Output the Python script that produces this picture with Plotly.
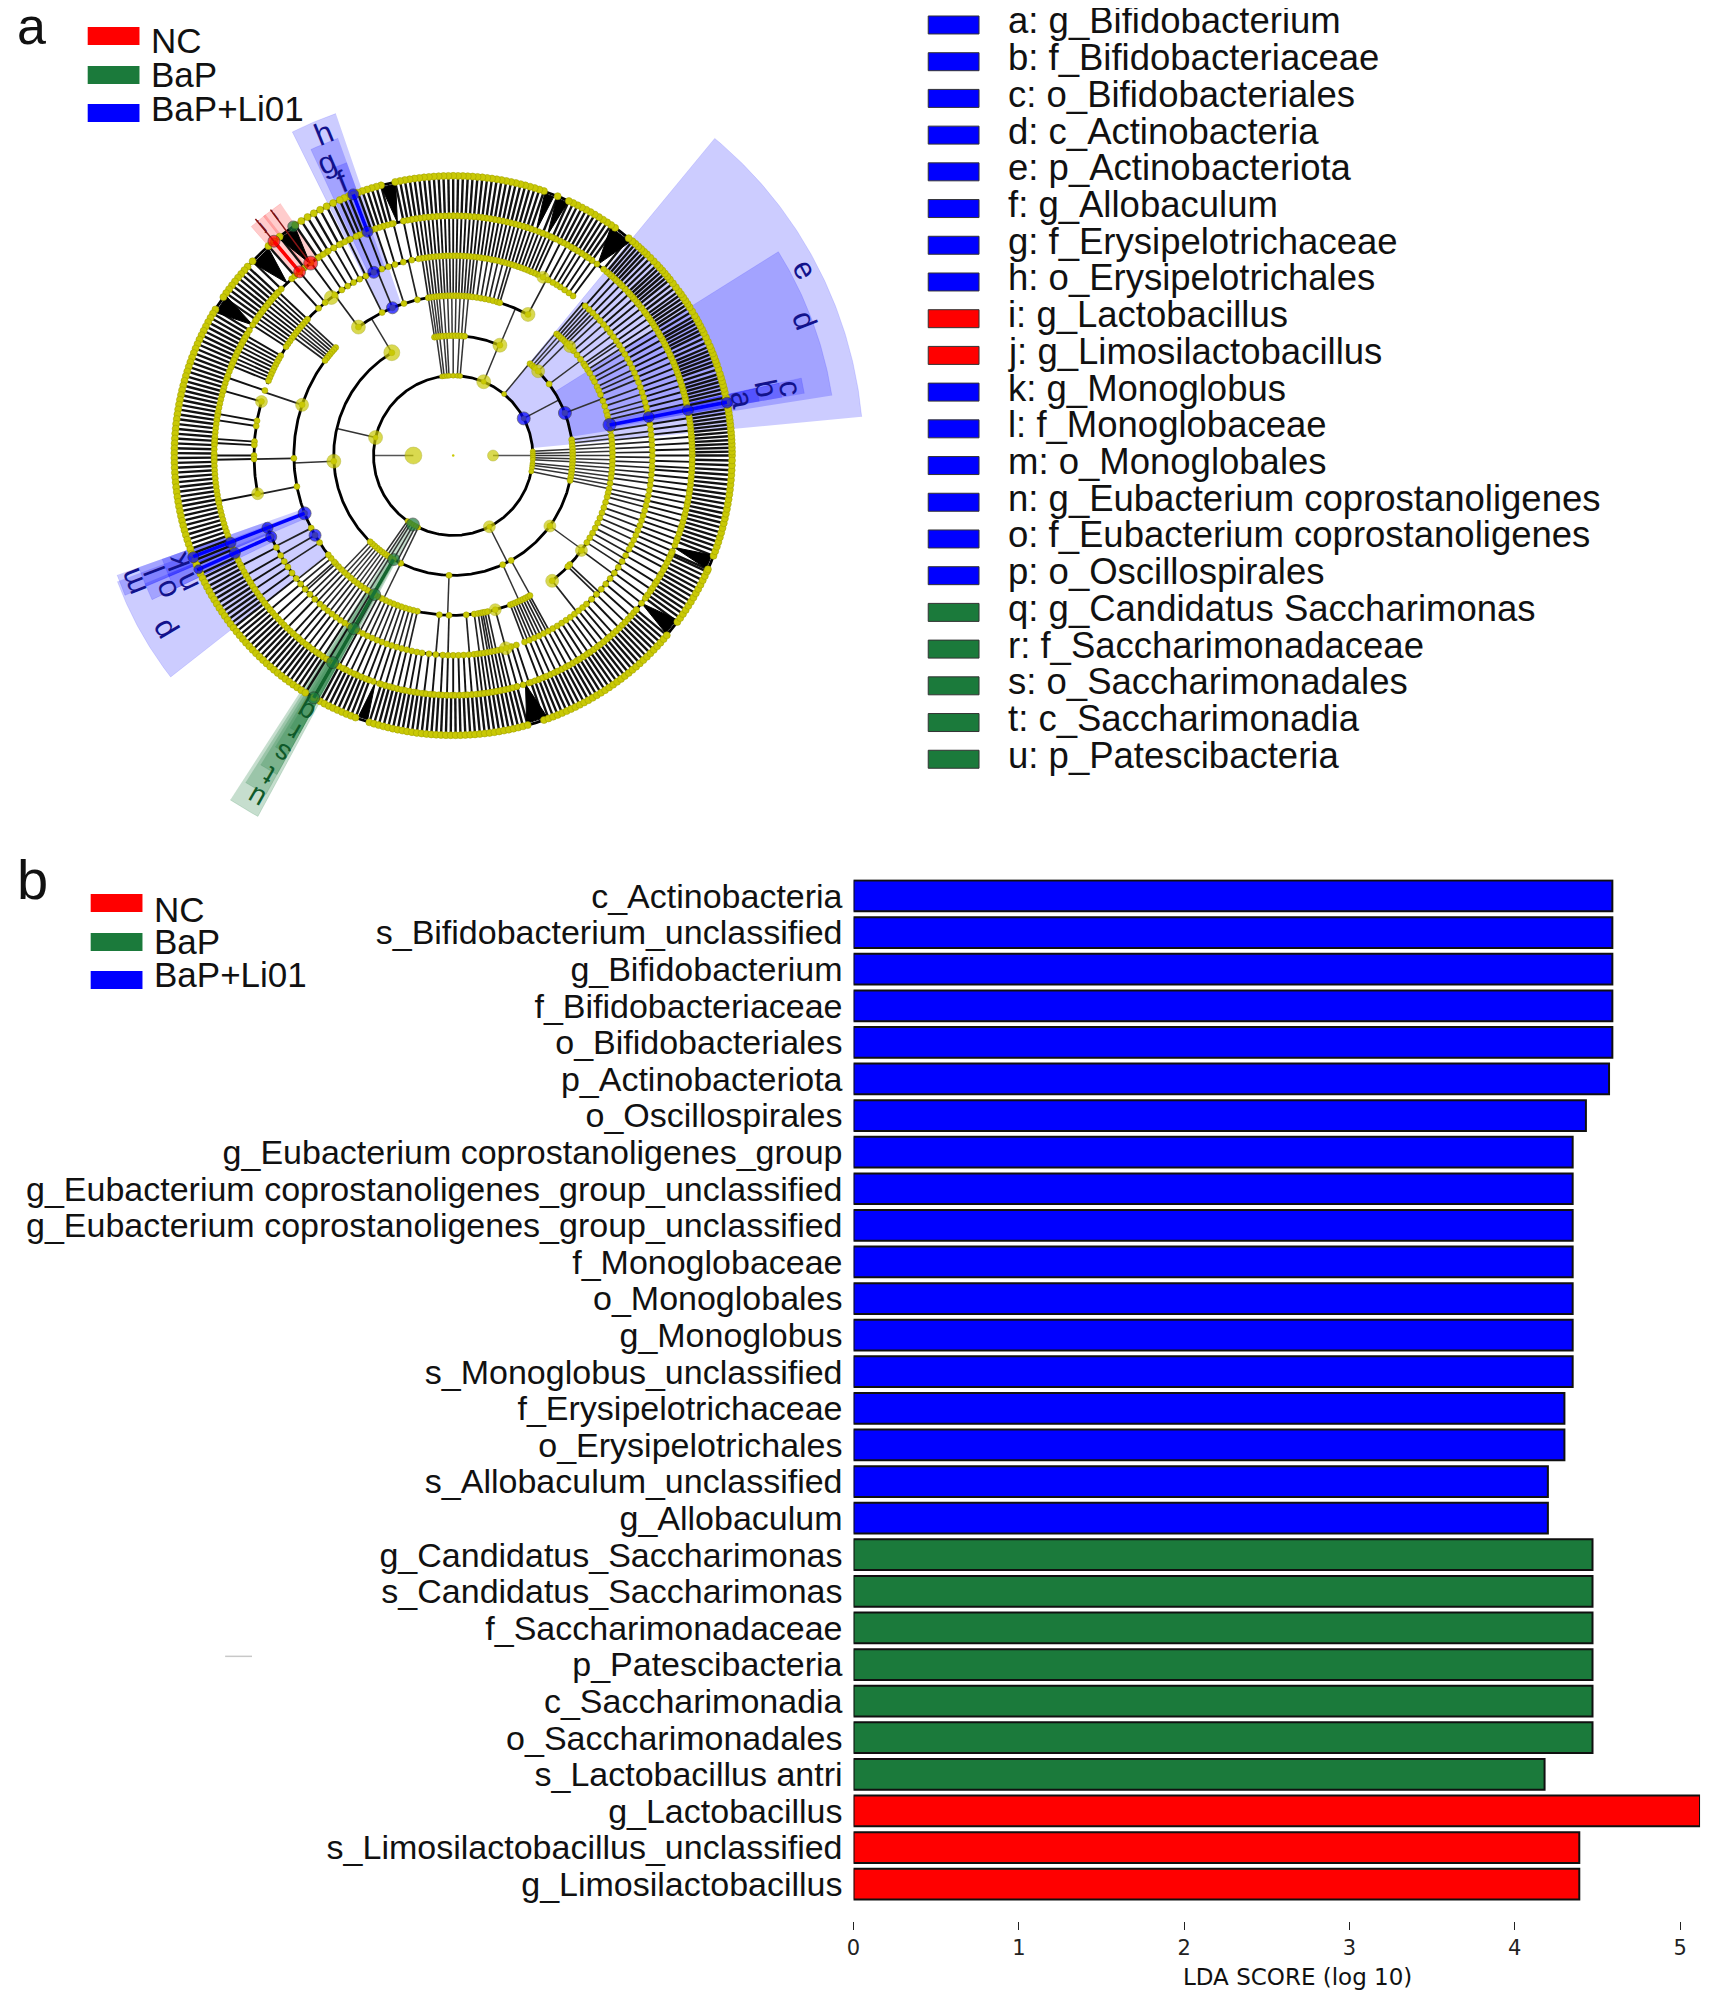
import numpy as np
import plotly.graph_objects as go

W, H = 1712, 1997
OFFX, OFFY = 12, 10  # where the page places the figure's top-left corner
FONT = "Liberation Sans"
BLUE, GREEN, RED = "#0000ff", "#1b7a3b", "#ff0000"
YEL = "#c9c905"

# ---------- panel b data ----------
bar_labels = ["c_Actinobacteria", "s_Bifidobacterium_unclassified", "g_Bifidobacterium", "f_Bifidobacteriaceae",
              "o_Bifidobacteriales", "p_Actinobacteriota", "o_Oscillospirales", "g_Eubacterium coprostanoligenes_group",
              "g_Eubacterium coprostanoligenes_group_unclassified", "g_Eubacterium coprostanoligenes_group_unclassified",
              "f_Monoglobaceae", "o_Monoglobales", "g_Monoglobus", "s_Monoglobus_unclassified", "f_Erysipelotrichaceae",
              "o_Erysipelotrichales", "s_Allobaculum_unclassified", "g_Allobaculum", "g_Candidatus_Saccharimonas",
              "s_Candidatus_Saccharimonas", "f_Saccharimonadaceae", "p_Patescibacteria", "c_Saccharimonadia",
              "o_Saccharimonadales", "s_Lactobacillus antri", "g_Lactobacillus", "s_Limosilactobacillus_unclassified",
              "g_Limosilactobacillus"]
bar_values = [4.59, 4.59, 4.59, 4.59, 4.59, 4.57, 4.43, 4.35, 4.35, 4.35, 4.35, 4.35, 4.35, 4.35, 4.30, 4.30, 4.20, 4.20,
              4.47, 4.47, 4.47, 4.47, 4.47, 4.47, 4.18, 5.12, 4.39, 4.39]
bar_groups = ["B"] * 18 + ["G"] * 7 + ["R"] * 3
x_ticks = [0, 1, 2, 3, 4, 5]

legend_groups = ["NC", "BaP", "BaP+Li01"]
legend_colors = [RED, GREEN, BLUE]
feature_names = ["a: g_Bifidobacterium", "b: f_Bifidobacteriaceae", "c: o_Bifidobacteriales", "d: c_Actinobacteria",
                 "e: p_Actinobacteriota", "f: g_Allobaculum", "g: f_Erysipelotrichaceae", "h: o_Erysipelotrichales",
                 "i: g_Lactobacillus", "j: g_Limosilactobacillus", "k: g_Monoglobus", "l: f_Monoglobaceae",
                 "m: o_Monoglobales", "n: g_Eubacterium coprostanoligenes", "o: f_Eubacterium coprostanoligenes",
                 "p: o_Oscillospirales", "q: g_Candidatus Saccharimonas", "r: f_Saccharimonadaceae",
                 "s: o_Saccharimonadales", "t: c_Saccharimonadia", "u: p_Patescibacteria"]
feature_groups = list("BBBBBBBBRRBBBBBBGGGGG")

# ---------- panel a data: angles in degrees, radii of the taxonomy rings ----------
ring_r = [40, 80, 120, 160, 200, 240, 280]
band1 = [180, 0]
band2 = [98, 96.5, 94.5, 93, 90, 87, 85, 67.5, 50.3, 27.7, 3, 1.5, 0, -1.5, -3, -5.5, -7, -9, -11.5, -63, 235, 236.5, 238,
         240, 242, 244, 167]
band3 = [99, 98, 97, 96, 95, 93.5, 92, 90.5, 89, 87.5, 86, 84.5, 67, 50, 48.5, 47.2, 44.7, 36.6, 20.8, 7.6, 6, 4.5, 3, 1.5,
         0, -1.5, -3, -4.5, -6, -7.5, -9, -10.5, -12, -36, -61, -65.5, 268, 244, 240, 238, 236.5, 235, 233.5, 232, 230.5,
         229, 227.5, 226, 182.7, 120.9]
band4 = [137.5, 138.5, 139.5, 140.5, 141.5, 142.4, 143.5, 161.5, 126.5, 116.5, 112.4, 108, 103, 99, 98, 97, 96, 95, 94, 93,
         92, 91, 90, 89, 88, 87, 86, 85, 84, 83, 81.5, 80, 78.5, 77, 75.5, 74, 73, 62, 49.5, 48.5, 47.5, 46.5, 45.5, 44.5,
         43, 41, 39, 37, 35, 34, 32.5, 31, 29, 27.5, 25.5, 24, 22.4, 20, 18, 16, 14.5, 13, 11.1, 9, 7, 5.5, 4, 2.5, 1, -.5,
         -2, -3.5, -5, -6.5, -8, -10, -12, -13.5, -15, -17, -19, -21, -23, -25, -27, -29, -31, -33, -36.4, -43, -44, -51.6,
         -85.3, -82.4, -81, -80, -79.3, -78.5, -77.5, -74.7, -69, -68, -67, -66, -65, -64, -63, -62, -61.2, 268.5, 265, 257,
         255.5, 254, 252.5, 251, 249.5, 248, 246.5, 245, 243.5, 242, 240.5, 239, 237.5, 236, 234.5, 233, 231.5, 230, 228.5,
         227, 225.5, 224, 222.5, 221.7, 220, 218.4, 213, 207, 209.9, 201.2, 191.2, 181]
band5 = [-1.5, 0, 1.5, 3, 4.5, 6, 7.5, 9, 11, 12.5, 14, 15.5, 17, 18.5, 20, 21.5, 23, 24.5, 26, 27.5, 29, 30.5, 32, 33.5, 35,
         36.5, 38, 39.5, 41, 42.5, 44, 45.5, 47, 48.5, 53, 54.5, 56, 57.5, 58.7, 60, 61.5, 63.2, 65, 66, 67, 68, 69, 70, 71,
         72, 73, 74, 75, 76, 77, 78, 79, 80, 81, 82, 83, 84, 85, 86, 87, 88, 89, 90, 91, 92, 93, 94, 95, 96, 97, 98, 99, 100,
         102, 104.5, 107, 109, 111, 113.5, 116, 118, 120, 122, 124, 126.5, 130, 132.5, 137, 138, 139, 140, 141, 142, 143,
         144, 145, 146, 147, 150, 151, 152, 153, 154, 155, 156, 157, 158, 161, 164.3, 170, 171.5, 176, 177, 180, 181, 191,
         201.2, 204, 207.4, 210, 212, 213.9, 216, 218, 220, 222, 224, 226, 228, 229.5, 231, 232.5, 234, 235.5, 237, 238.5,
         240, 241.5, 243, 244.5, 246, 247.5, 249, 250.5, 252, 253.5, 255, 256.5, 258, 259.5, 261, 263, 265, 267, 268.5, 270,
         271.5, 273, 274.5, 276, 277, 278, 279, 280, 281, 282, 283, 284, 285.5, 287, 288.5, 291, 292.5, 294, 295.5, 297,
         298.5, 300, 301.5, 303, 304.5, 306, 307.5, 309, 310.5, 312, 314, 316, 318, 320, 322, 324, 326, 328, 330, 332, 333.5,
         335, 336.5, 338, 339.5, 341, 342.5, 344, 345.5, 347, 348.5, 350, 351.5, 353, 354.5, 356, 357]
band6 = [0, .8, 1.6, 2.4, 3.2, 4, 4.8, 5.6, 6.4, 7.2, 8, 8.8, 9.6, 11, 12, 13, 13.8, 14.6, 15.4, 16.2, 17, 18, 19, 19.8, 20.6,
         21.4, 22.2, 23, 24, 25, 26, 26.8, 27.6, 28.4, 29.2, 30, 31, 32, 32.8, 33.6, 34.4, 35.2, 36, 37, 38, 39, 39.8, 40.6,
         41.4, 42.2, 43, 44, 45, 46, 46.8, 47.6, 48.4, 49.2, 50, 51, 54.5, 55.5, 56.5, 57.5, 58.5, 59.5, 60.5, 61.5, 62.5, 63.5,
         64.5, 65.5, 68, 71, 72, 73, 74, 75, 76, 77, 78, 79, 80, 81, 82, 83, 84, 85, 86, 87, 88, 89, 90, 91, 92, 93, 94, 95, 96,
         97, 98, 99, 100, 101, 102, 105, 106, 107, 108, 109, 110, 111, 112, 113, 114, 115.5, 117, 118.5, 120, 121.5, 123,
         124.5, 128.5, 130, 131.5, 136, 137.5, 138.5, 139.5, 140.5, 141.5, 142.5, 143.5, 144.5, 145.5, 148.5, 149.5, 150.5,
         151.5, 152.5, 153.5, 154.5, 155.5, 156.5, 157.5, 158.5, 159.5, 160.5, 161.5, 162.5, 163.5, 164.5, 165.5, 166.5,
         167.5, 168.5, 169.5, 170.5, 171.5, 172.5, 173.5, 174.5, 175.5, 176.5, 177.5, 178.5, 179.5, 180.5, 181.5, 182.5,
         183.5, 184.5, 185.5, 186.5, 187.5, 188.5, 189.5, 190.5, 191.5, 192.5, 193.5, 194.5, 195.5, 196.5, 197.5, 198.5,
         199.5, 200.5, 202, 203, 205, 206, 207, 208, 209, 210, 211, 212, 213, 214, 215, 216, 217, 218, 219, 220, 221, 222,
         223, 224, 225, 226, 227, 228, 229, 230, 231, 232, 233, 234, 235, 236, 237, 238, 240, 241.5, 242.5, 243.5, 244.5,
         245.5, 246.5, 247.5, 248.5, 249.5, 252.5, 253.5, 254.5, 255.5, 256.5, 257.5, 258.5, 259.5, 260.5, 261.5, 262.5,
         263.5, 264.5, 265.5, 266.5, 267.5, 268.5, 269.5, 270.5, 271.5, 272.5, 273.5, 274.5, 275.5, 276.5, 277.5, 278.5,
         279.5, 280.5, 281.5, 282.5, 283.5, 284.5, 285.5, 289, 290, 291, 292, 293, 294, 295, 296, 297, 298, 299, 300, 301,
         302, 303, 304, 305, 306, 307, 308, 309, 310, 311, 312, 313, 314, 315, 316, 317, 318, 319, 320, 323.5, 324.5, 325.5,
         326.5, 327.5, 328.5, 329.5, 330.5, 331.5, 332.5, 333.5, 334.5, 335.5, 336, 339, 340, 341, 342, 343, 344, 345, 346,
         347, 348, 349, 350, 351, 352, 353, 354, 355, 356, 357, 358, 359]
band6_dark = [52.8, 66.8, 69.7, 103.5, 126.8, 134, 147, 337.5, 322, 287.6, 251]
band6_dark_halfwidth = [2.5, 1.2, 1, 1.5, 2, 2.2, 2, 1.5, 1.8, 2.2, 1]
arc_r80 = [(0, 360)]
arc_r120 = [(244, 410), (66.8, 99), (120.9, 244)]
arc_r160 = [(-51.6, 49.5), (62, 126.5), (137.3, 298.8)]
arc_r200 = [(-69.2, 49.7), (53, 159), (164, 191), (201, 285.3)]
arc_r240 = [(0, 360)]
arc_r280 = [(0, 360)]
big_nodes_r = [40, 40, 80, 80, 80, 120, 120, 120, 120, 120, 160, 160, 160, 160, 160, 160, 160, 200, 200, 200, 200, 200]
big_nodes_a = [180, 0, 167, 67.5, -63, 182.7, 120.9, 67, 44.7, -36, 161.5, 126.5, 62, 43, -36.4, -51.6, -74.7, 63.2, 127.7,
               164.3, 191, -74.7]
big_nodes_s = [17, 11, 14, 14, 12, 14, 16, 14, 13, 12, 13, 14, 14, 12, 12, 13, 12, 12, 14, 12, 12, 13]
# highlighted nodes
hi_r = [80, 120, 160, 200, 240, 280, 160, 200, 240, 280, 200, 240, 280, 160, 200, 240, 280, 80, 120, 160, 200, 240, 280, 240,
        240, 280, 280, 160]
hi_a = [27.7, 20.8, 11.1, 11.1, 10.9, 10.9, 201.2, 201.2, 201.3, 201.3, 204, 204, 204, 209.9, 113.5, 111, 111, 239.6, 240.2,
        240.5, 240, 239.7, 240, 126.6, 130, 130, 125, 112.4]
hi_c = [BLUE] * 17 + [GREEN] * 6 + [RED, RED, RED, GREEN, BLUE]
hi_s = [13, 13, 13, 11, 11, 11, 13, 11, 11, 11, 11, 11, 9, 12, 12, 11, 11, 13, 12, 12, 12, 12, 12, 14, 12, 12, 11, 12]
spine_colors = [BLUE, BLUE, BLUE, BLUE, GREEN, RED]
spine_r = [(160, 280), (160, 280), (200, 280), (240, 280), (120, 280), (240, 280)]
spine_a = [11, 201.2, 204, 111, 240, 130]
thin_red_a = [130, 126.7]
thin_red_r = [(280, 309), (240, 307)]
# wedge: start angle, end angle, inner radius, outer radius
wedge_a0 = [5.4, 9, 10, 10, 10, 109, 110, 110, 124.5, 128, 200.5, 199.5, 199.5, 199.5, 202.5, 202.5, 237, 237.5, 238, 238.5, 239]
wedge_a1 = [50, 32, 12.4, 12.4, 12.4, 116.5, 115, 112.5, 128.5, 131.5, 218, 203, 203, 203, 205.5, 205.5, 241.5, 241, 241, 241, 241]
wedge_r0 = [80, 120, 160, 200, 240, 160, 200, 240, 240, 240, 160, 160, 200, 240, 200, 240, 80, 120, 160, 200, 240]
wedge_r1 = [412, 385, 358, 335, 312, 362, 338, 312, 306, 306, 360, 358, 335, 310, 335, 310, 411, 388, 365, 342, 318]
wedge_c = ["B"] * 8 + ["R"] * 2 + ["B"] * 6 + ["G"] * 5
letters = list("abcdefghijklmnopqrstu")
letter_r = [296, 321, 345, 378, 399, 296, 320, 348, 300, 300, 296, 321, 346, 296, 318, 341, 296, 320, 345, 370, 396]
letter_a = [11, 12, 11.2, 21, 27.8, 112, 113.4, 112, 126.7, 130, 201, 201, 201.5, 205.5, 205, 211, 240, 240, 240, 240, 240]
letter_c = ["#12128c"] * 8 + ["#7a1010"] * 2 + ["#12128c"] * 6 + ["#0f5a2a"] * 5
letter_s = [31] * 8 + [16] * 2 + [31] * 6 + [28] * 5

COL = {"B": BLUE, "G": GREEN, "R": RED}
FILL = {"B": "rgba(0,0,255,0.2)", "G": "rgba(27,122,59,0.25)", "R": "rgba(255,0,0,0.2)"}


def pol(r, a):
    t = np.deg2rad(a)
    return r * np.cos(t), r * np.sin(t)


def spokes(angles, r0, r1):
    xs, ys = [], []
    for a in angles:
        x0, y0 = pol(r0, a)
        x1, y1 = pol(r1, a)
        xs += [x0, x1, None]
        ys += [y0, y1, None]
    return xs, ys


def arcs(r, spans):
    xs, ys = [], []
    for a0, a1 in spans:
        t = np.arange(a0, a1 + 0.5, 0.5)
        x, y = pol(r, t)
        xs += list(x) + [None]
        ys += list(y) + [None]
    return xs, ys


fig = go.Figure()

# bars
fig.add_trace(go.Bar(x=bar_values, y=list(range(len(bar_values))), orientation="h", width=0.84,
                     marker=dict(color=[COL[g] for g in bar_groups], line=dict(color="#101010", width=2)),
                     showlegend=False, xaxis="x", yaxis="y"))


def clad(**k):
    fig.add_trace(go.Scatter(xaxis="x2", yaxis="y2", showlegend=False, hoverinfo="skip", **k))


# wedges
for a0, a1, r0, r1, c in zip(wedge_a0, wedge_a1, wedge_r0, wedge_r1, wedge_c):
    t = np.arange(a0, a1 + 0.5, 0.5)
    xo, yo = pol(r1, t)
    xi, yi = pol(r0, t[::-1])
    clad(x=list(xo) + list(xi), y=list(yo) + list(yi), mode="lines", fill="toself", fillcolor=FILL[c],
         line=dict(width=0.6, color=FILL[c]))

# branches
for ang, r0, r1, w, col in [(band1, 40, 80, 1.4, "#555"), (band2, 80, 120, 1.5, "#333"), (band3, 120, 160, 1.5, "#333"),
                            (band4, 160, 200, 1.7, "#222"), (band5, 200, 240, 1.9, "#111"), (band6, 240, 280, 2.4, "#111")]:
    x, y = spokes(ang, r0, r1)
    clad(x=x, y=y, mode="lines", line=dict(color=col, width=w))
for a, hw in zip(band6_dark, band6_dark_halfwidth):
    xa, ya = pol(240, a)
    xb, yb = pol(278, a - hw)
    xc, yc = pol(278, a + hw)
    clad(x=[xa, xb, xc, xa], y=[ya, yb, yc, ya], mode="lines", fill="toself", fillcolor="#000",
         line=dict(color="#000", width=1))
for r, sp in zip(ring_r[1:], [arc_r80, arc_r120, arc_r160, arc_r200, arc_r240, arc_r280]):
    x, y = arcs(r, sp)
    clad(x=x, y=y, mode="lines", line=dict(color="#000", width=2.8))

# yellow nodes
for ang, r, s in [(band2, 80, 5), (band3, 120, 6), (band4, 160, 6), (band5, 200, 6), (band5, 240, 6), (band6, 240, 6),
                  (band6, 280, 7)]:
    x, y = pol(r, np.array(ang, float))
    clad(x=x, y=y, mode="markers", marker=dict(color=YEL, size=s, line=dict(color="#9a9a00", width=0.5)))
bx, by = pol(np.array(big_nodes_r, float), np.array(big_nodes_a, float))
clad(x=bx, y=by, mode="markers", marker=dict(color=YEL, size=big_nodes_s, line=dict(color="#9a9a00", width=0.5)))
clad(x=[0], y=[0], mode="markers", marker=dict(color=YEL, size=2.5))

# highlighted lines and nodes
for a, (r0, r1), c in zip(spine_a, spine_r, spine_colors):
    x, y = spokes([a], r0, r1)
    clad(x=x, y=y, mode="lines", line=dict(color=c if c != GREEN else "#14662f", width=3.5))
for a, (r0, r1) in zip(thin_red_a, thin_red_r):
    x, y = spokes([a], r0, r1)
    clad(x=x, y=y, mode="lines", line=dict(color="#8a1515", width=1.5))
hx, hy = pol(np.array(hi_r, float), np.array(hi_a, float))
clad(x=hx, y=hy, mode="markers", marker=dict(color=hi_c, size=hi_s, line=dict(color="#222", width=0.7)))


def px(x):
    return (x - OFFX) / (W - 8)


def py(y):
    return 1 - (y - OFFY) / (H - 8)


ann = []
for t, a, r, c, s in zip(letters, letter_a, letter_r, letter_c, letter_s):
    x, y = pol(r, a)
    ann.append(dict(x=x, y=y, xref="x2", yref="y2", text=t, showarrow=False, textangle=90 - a,
                    font=dict(family="Liberation Sans", size=s, color=c), xanchor="center", yanchor="middle"))


def label(x, y, t, size, anchor="left", fam=FONT, col="#111"):
    ann.append(dict(x=px(x), y=py(y), xref="paper", yref="paper", text=t, showarrow=False, xanchor=anchor, yanchor="middle",
                    font=dict(family=fam, size=size, color=col)))


label(12, 26, "a", 52)
label(12, 880, "b", 56)
label(1300, 1979, "LDA SCORE (log 10)", 23, "center", "DejaVu Sans")

shapes = []


def swatch(x0, x1, y0, y1, c, border=None):
    shapes.append(dict(type="rect", xref="paper", yref="paper", x0=px(x0), x1=px(x1), y0=py(y0), y1=py(y1), fillcolor=c,
                       line=dict(width=1 if border else 0, color=border or c)))


for name, c, sy, ty in zip(legend_groups, legend_colors, [36, 75, 113], [41, 74.5, 108.5]):
    swatch(85, 137, sy - 9, sy + 9, c)
    label(147, ty, name, 35)
for name, c, sy, ty in zip(legend_groups, legend_colors, [904, 943, 981], [910, 942, 975]):
    swatch(88, 140, sy - 9, sy + 9, c)
    label(150, ty, name, 35)
for i, (name, g) in enumerate(zip(feature_names, feature_groups)):
    swatch(929, 980, 16 + 36.75 * i, 34 + 36.75 * i, COL[g], "#333")
    label(1007, 21 + 36.75 * i, name, 36.5)
shapes.append(dict(type="line", xref="paper", yref="paper", x0=px(223), x1=px(250), y0=py(1658), y1=py(1658),
                   line=dict(color="#c8c8c8", width=1.5)))

fig.update_layout(
    width=W - 8, height=H - 8, margin=dict(l=0, r=0, t=0, b=0), paper_bgcolor="white", plot_bgcolor="rgba(0,0,0,0)",
    autosize=False, bargap=0.16, annotations=ann, shapes=shapes,
    xaxis=dict(domain=[px(854), px(1704)], range=[0, 850 / 166], tickvals=x_ticks, ticks="outside", ticklen=8, tickwidth=1,
               tickcolor="#222", showgrid=False, zeroline=False, showline=False, anchor="y",
               tickfont=dict(family="DejaVu Sans", size=21, color="#222")),
    yaxis=dict(domain=[py(1923), py(880)], range=[28.01, -0.46], tickvals=list(range(len(bar_labels))), ticktext=bar_labels,
               ticks="", showgrid=False, zeroline=False, showline=False, anchor="x", ticklabelstandoff=10,
               tickfont=dict(family=FONT, size=34, color="#111")),
    xaxis2=dict(domain=[0, px(880)], range=[-440, 428], visible=False, anchor="y2"),
    yaxis2=dict(domain=[py(830), 1], range=[-374, 446], visible=False, anchor="x2"),
)
fig.write_html("out.html")
